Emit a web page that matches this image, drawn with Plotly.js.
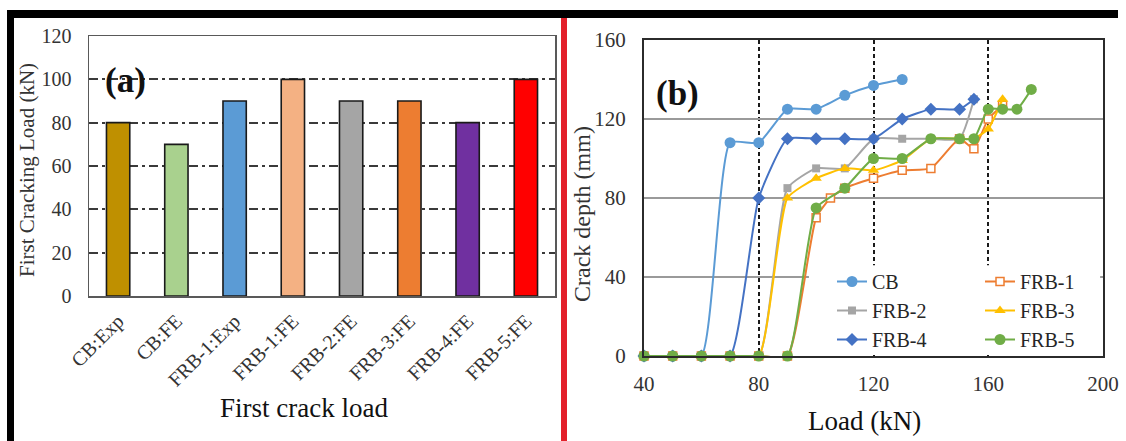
<!DOCTYPE html>
<html>
<head>
<meta charset="utf-8">
<script src="https://cdn.plot.ly/plotly-3.0.1.min.js"></script>
<style>html,body{margin:0;padding:0;background:#fff;}#chart{width:1126px;height:441px;}</style>
</head>
<body>
<div id="chart"></div>
<script>
// ---- Panel (a): first crack load ----
const barCategories = ['CB:Exp','CB:FE','FRB-1:Exp','FRB-1:FE','FRB-2:FE','FRB-3:FE','FRB-4:FE','FRB-5:FE'];
const firstCrackLoad = [80, 70, 90, 100, 90, 90, 80, 100];
const barColors = ['#BF9000','#A9D18E','#5B9BD5','#F4B183','#A5A5A5','#ED7D31','#7030A0','#FF0000'];

// ---- Panel (b): crack depth vs load ----
const cbLoad   = [40,50,60,70,80,90,100,110,120,130];
const cbDepth  = [0,0,0,108,108,125,125,132,137,140];
const frb1Load  = [40,50,60,70,80,90,100,105,110,120,130,140,150,155,160,165];
const frb1Depth = [0,0,0,0,0,0,70,80,85,90,94,95,110,105,120,127];
const frb2Load  = [40,50,60,70,80,90,100,110,120,130,140,150,155];
const frb2Depth = [0,0,0,0,0,85,95,95,110,110,110,110,130];
const frb3Load  = [40,50,60,70,80,90,100,110,120,130,140,150,155,160,165];
const frb3Depth = [0,0,0,0,0,80,90,95,94,99,110,110,110,115,130];
const frb4Load  = [40,50,60,70,80,90,100,110,120,130,140,150,155];
const frb4Depth = [0,0,0,0,80,110,110,110,110,120,125,125,130];
const frb5Load  = [40,50,60,70,80,90,100,110,120,130,140,150,155,160,165,170,175];
const frb5Depth = [0,0,0,0,0,0,75,85,100,100,110,110,110,125,125,125,135];

const serif = "'Liberation Serif', 'Times New Roman', serif";

function series(name, xs, ys, color, symbol, size, legend, fill) {
  return {
    type: 'scatter', mode: 'lines+markers', name: name, x: xs, y: ys,
    xaxis: 'x2', yaxis: 'y2', legend: legend, cliponaxis: false,
    line: {color: color, width: 2, shape: 'spline', smoothing: 0.5},
    marker: {symbol: symbol, size: size, color: fill || color,
             line: {color: color, width: fill ? 1.5 : 0}}
  };
}

const traces = [
  {
    type: 'bar', x: barCategories, y: firstCrackLoad, xaxis: 'x', yaxis: 'y',
    marker: {color: barColors, line: {color: '#1a1a1a', width: 1.6}},
    showlegend: false, hoverinfo: 'x+y'
  },
  series('CB', cbLoad, cbDepth, '#5B9BD5', 'circle', 11, 'legend'),
  series('FRB-1', frb1Load, frb1Depth, '#ED7D31', 'square', 8, 'legend2', '#ffffff'),
  series('FRB-2', frb2Load, frb2Depth, '#A5A5A5', 'square', 8, 'legend'),
  series('FRB-3', frb3Load, frb3Depth, '#FFC000', 'triangle-up', 10, 'legend2'),
  series('FRB-4', frb4Load, frb4Depth, '#4472C4', 'diamond', 10, 'legend'),
  series('FRB-5', frb5Load, frb5Depth, '#70AD47', 'circle', 11, 'legend2')
];

const W = 1126, H = 441;
const px = v => v / W;
const py = v => 1 - v / H;

const legendCommon = {
  font: {family: serif, size: 20, color: '#262626'},
  bgcolor: 'rgba(0,0,0,0)', borderwidth: 0, orientation: 'v',
  xanchor: 'left', yanchor: 'top', tracegroupgap: 0
};

const layout = {
  width: W, height: H,
  margin: {l: 0, r: 0, t: 0, b: 0},
  paper_bgcolor: '#ffffff', plot_bgcolor: '#ffffff',
  showlegend: true, bargap: 0.6,
  font: {family: serif, color: '#333'},
  xaxis: {
    domain: [px(89), px(555)], anchor: 'y', type: 'category',
    showline: true, mirror: true, linecolor: '#595959', linewidth: 1.5,
    showgrid: false, ticks: '', tickangle: -45, ticklabelstandoff: 4,
    tickfont: {family: serif, size: 20, color: '#333'}
  },
  yaxis: {
    domain: [py(296), py(36)], anchor: 'x', range: [0, 120], dtick: 20,
    showline: true, mirror: true, linecolor: '#595959', linewidth: 1.5,
    showgrid: true, gridcolor: '#3a3a3a', gridwidth: 1.8, griddash: '9px,4px,3px,4px',
    zeroline: false, ticks: '', ticklabelstandoff: 12,
    tickfont: {family: serif, size: 20, color: '#333'}
  },
  xaxis2: {
    domain: [px(644), px(1103)], anchor: 'y2', range: [40, 200], dtick: 40,
    showline: true, mirror: true, linecolor: '#2b2b2b', linewidth: 2,
    showgrid: true, gridcolor: '#1a1a1a', gridwidth: 2, griddash: '4px,3px',
    zeroline: false, ticks: '', ticklabelstandoff: 8,
    tickfont: {family: serif, size: 21, color: '#333'}
  },
  yaxis2: {
    domain: [py(356), py(40)], anchor: 'x2', range: [0, 160], dtick: 40,
    showline: true, mirror: true, linecolor: '#2b2b2b', linewidth: 2,
    showgrid: true, gridcolor: '#9a9a9a', gridwidth: 2,
    zeroline: false, ticks: '', ticklabelstandoff: 12,
    tickfont: {family: serif, size: 21, color: '#333'}
  },
  legend: Object.assign({}, legendCommon, {x: px(832), y: py(262)}),
  legend2: Object.assign({}, legendCommon, {x: px(980), y: py(262)}),
  shapes: [
    // white backing behind the legend (hides gridlines there)
    {type: 'rect', xref: 'x2', yref: 'y2', layer: 'between',
     x0: 97.5, x1: 199, y0: 1, y1: 46, fillcolor: '#ffffff', line: {width: 0}},
    // outer frame: top black bar, left black bar, red divider
    {type: 'rect', xref: 'paper', yref: 'paper', x0: px(7), x1: px(1118), y0: py(18), y1: py(10),
     fillcolor: '#000', line: {width: 0}},
    {type: 'rect', xref: 'paper', yref: 'paper', x0: px(7), x1: px(14), y0: 0, y1: py(10),
     fillcolor: '#000', line: {width: 0}},
    {type: 'rect', xref: 'paper', yref: 'paper', x0: px(561), x1: px(567), y0: 0, y1: py(18),
     fillcolor: '#E3202A', line: {width: 0}}
  ],
  annotations: [
    {text: '<b>(a)</b>', x: px(125), y: py(81), xref: 'paper', yref: 'paper', showarrow: false,
     xanchor: 'center', yanchor: 'middle', font: {family: serif, size: 35, color: '#111'}},
    {text: '<b>(b)</b>', x: px(677), y: py(93), xref: 'paper', yref: 'paper', showarrow: false,
     xanchor: 'center', yanchor: 'middle', font: {family: serif, size: 35, color: '#111'}},
    {text: 'First Cracking Load (kN)', textangle: -90, x: px(27), y: py(170), xref: 'paper', yref: 'paper',
     showarrow: false, xanchor: 'center', yanchor: 'middle', font: {family: serif, size: 21, color: '#333'}},
    {text: 'First crack load', x: px(304), y: py(408), xref: 'paper', yref: 'paper', showarrow: false,
     xanchor: 'center', yanchor: 'middle', font: {family: serif, size: 27, color: '#111'}},
    {text: 'Crack depth (mm)', textangle: -90, x: px(582), y: py(214), xref: 'paper', yref: 'paper',
     showarrow: false, xanchor: 'center', yanchor: 'middle', font: {family: serif, size: 24, color: '#333'}},
    {text: 'Load (kN)', x: px(864), y: py(421), xref: 'paper', yref: 'paper', showarrow: false,
     xanchor: 'center', yanchor: 'middle', font: {family: serif, size: 27, color: '#111'}}
  ]
};

Plotly.newPlot('chart', traces, layout, {displayModeBar: false, staticPlot: true});
</script>
</body>
</html>
